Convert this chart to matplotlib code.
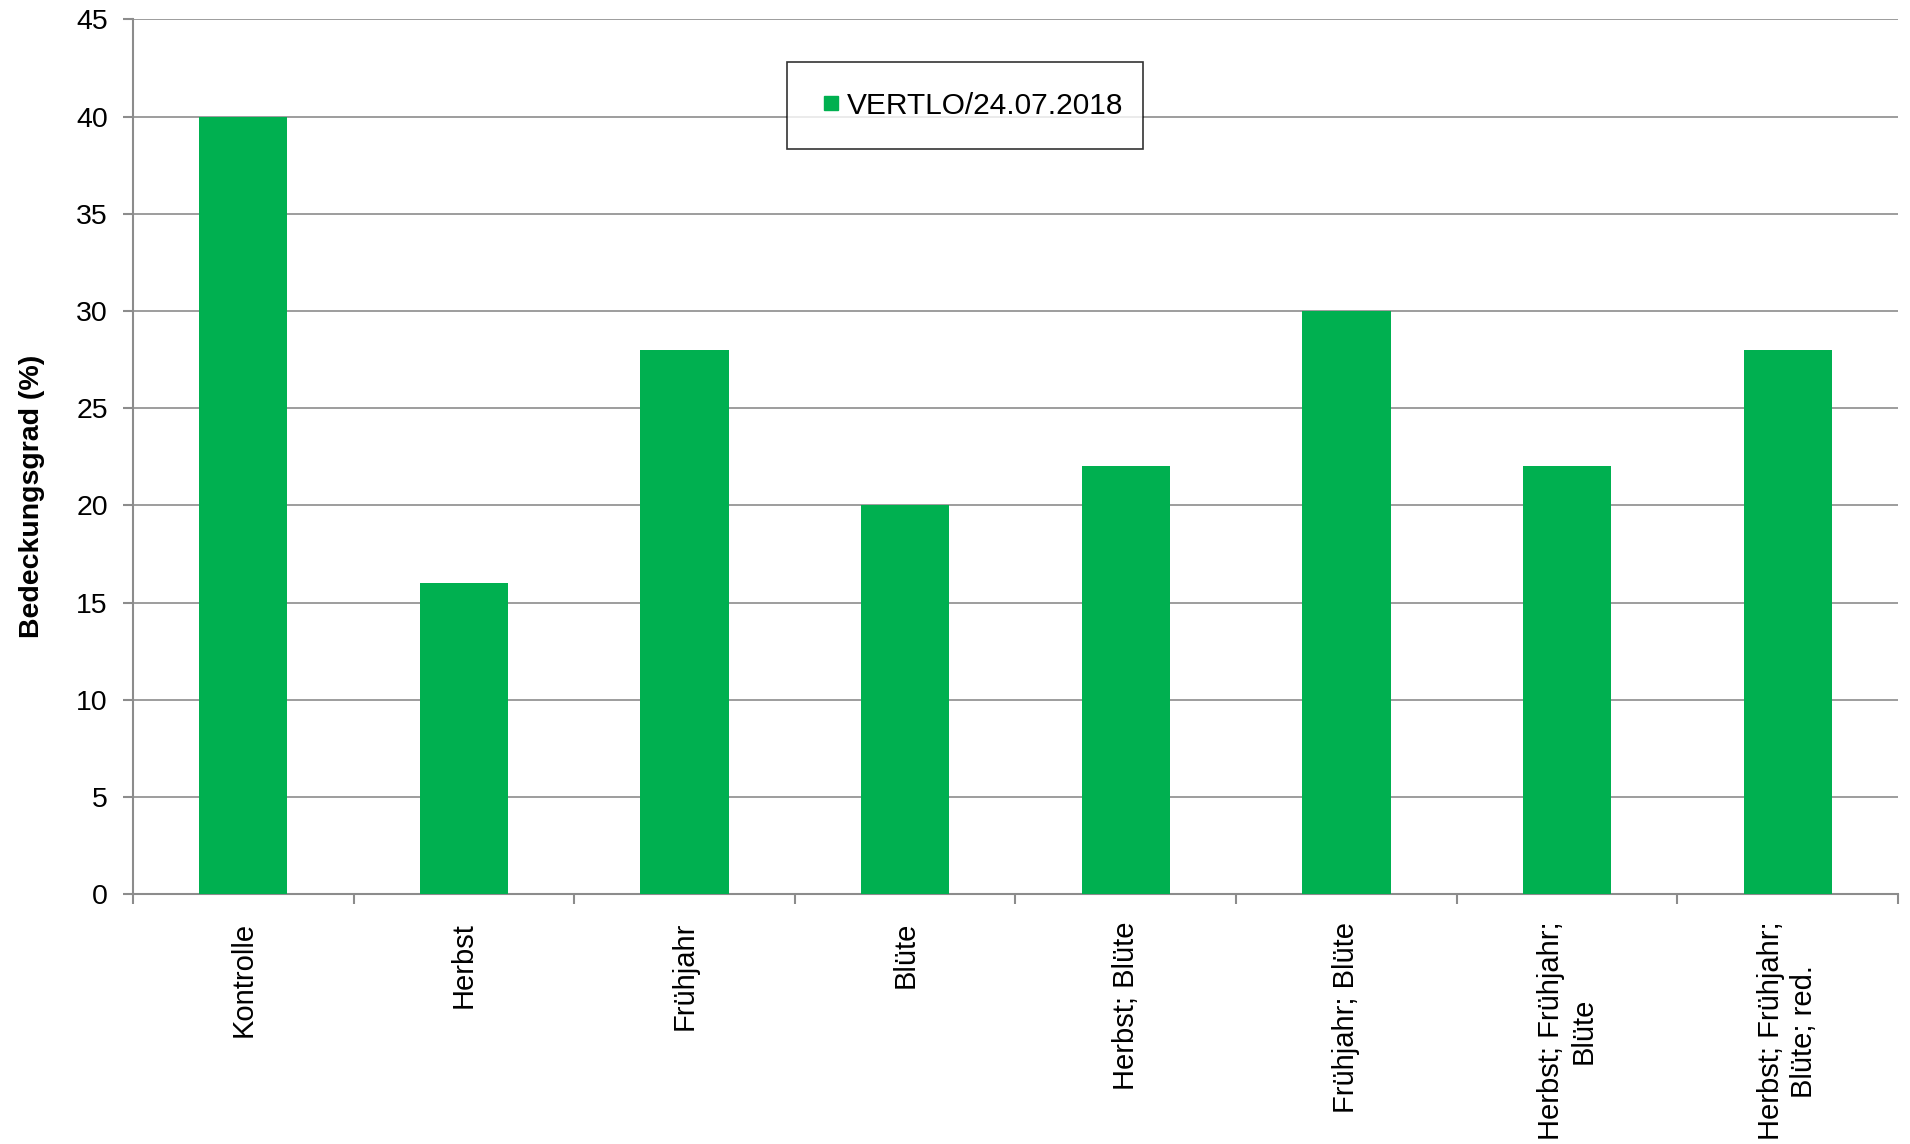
import matplotlib
matplotlib.use("Agg")
import matplotlib.pyplot as plt
from matplotlib.lines import Line2D
import numpy as np

plt.rcParams["font.family"] = ["Liberation Sans", "DejaVu Sans"]

# data
categories = ["Kontrolle", "Herbst", "Frühjahr", "Blüte", "Herbst; Blüte",
              "Frühjahr; Blüte", "Herbst; Frühjahr;\nBlüte", "Herbst; Frühjahr;\nBlüte; red."]
values = [40, 16, 28, 20, 22, 30, 22, 28]
series_name = "VERTLO/24.07.2018"
y_ticks = [0, 5, 10, 15, 20, 25, 30, 35, 40, 45]

GREEN = "#00B050"
GRID = "#8C8C8C"

fig = plt.figure(figsize=(19.10, 11.44), dpi=100)
ax = fig.add_axes([0.0696, 0.2185, 0.9241, 0.7645])

x = np.arange(len(categories))
ax.bar(x, values, width=0.40, color=GREEN, zorder=3)

ax.set_xlim(-0.5, len(categories) - 0.5)
ax.set_ylim(0, 45)
ax.set_yticks(y_ticks)
ax.yaxis.grid(True, color=GRID, linewidth=1.2, zorder=0)
ax.set_axisbelow(True)

for side in ("top", "right"):
    ax.spines[side].set_visible(False)
for side in ("left", "bottom"):
    ax.spines[side].set_color(GRID)
    ax.spines[side].set_linewidth(1.5)

# category boundaries as ticks, labels placed in between
ax.set_xticks(np.arange(len(categories) + 1) - 0.5)
ax.set_xticklabels([])
ax.tick_params(axis="x", length=7, width=1.5, color=GRID, direction="out")
ax.tick_params(axis="y", length=7, width=1.5, color=GRID, direction="out",
               labelsize=20.5, pad=11)

for xi, lab in zip(x, categories):
    ax.annotate(lab, xy=(xi, 0), xycoords=("data", "axes fraction"),
                xytext=(0, -20), textcoords="offset points",
                rotation=90, ha="center", va="top", multialignment="center",
                fontsize=21)

ax.set_ylabel("Bedeckungsgrad (%)", fontsize=20.5, fontweight="bold")
ax.yaxis.set_label_coords(-0.050, 0.455)

handle = Line2D([], [], marker="s", color=GREEN, linestyle="none", markersize=10.5)
leg = ax.legend([handle], [series_name], loc="center",
                bbox_to_anchor=(0.3705, 0.852, 0.2015, 0.099),
                mode="expand", fontsize=21.5, frameon=True, fancybox=False,
                handlelength=0.95, handletextpad=0.05,
                borderaxespad=0, borderpad=1.0)
leg.get_frame().set_edgecolor("black")
leg.get_frame().set_linewidth(1.2)

fig.savefig("out.png", dpi=100)
